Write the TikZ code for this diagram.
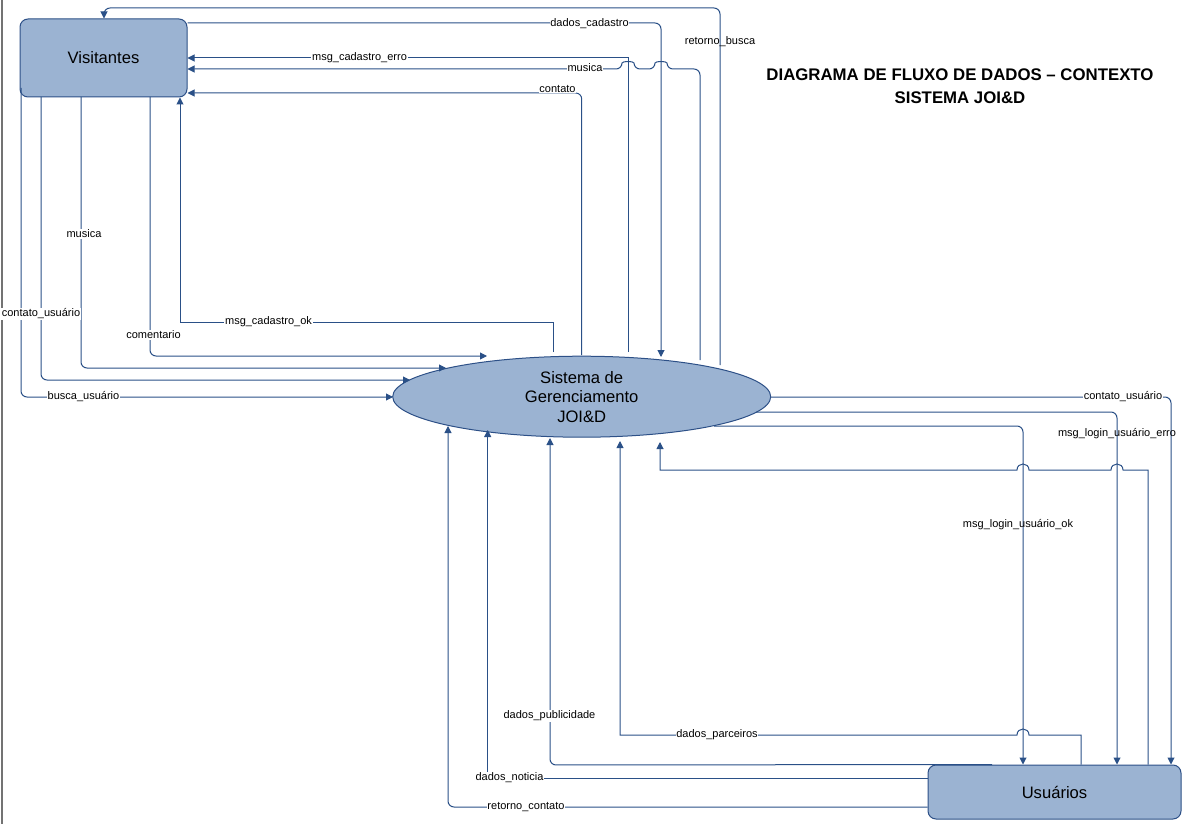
\documentclass[tikz,border=0pt]{standalone}
\usepackage{fontspec}
\setmainfont{Liberation Sans}
\usetikzlibrary{arrows.meta,shapes.geometric}
\definecolor{flowblue}{RGB}{42,80,135}
\definecolor{boxfill}{RGB}{155,179,210}
\definecolor{boxline}{RGB}{45,80,135}

\begin{document}
\begin{tikzpicture}[x=1pt,y=-1pt,
  flow/.style={draw=flowblue, line width=1pt, -{Triangle[length=7pt,width=7pt]}},
  rc/.style={rounded corners=6pt},
  entity/.style={draw=boxline, fill=boxfill, line width=1pt, rounded corners=8pt,
                 inner sep=0pt, font=\fontsize{16.6}{20}\selectfont},
  process/.style={ellipse, draw=boxline, fill=boxfill, line width=1pt,
                  minimum width=378pt, minimum height=81pt, inner sep=0pt},
  lbl/.style={font=\fontsize{11}{13}\selectfont, fill=white, inner sep=0.8pt},
  lblclear/.style={font=\fontsize{11}{13}\selectfont, inner sep=0.8pt},
]
\useasboundingbox (0,0) rectangle (1195,824);

% page edge
\draw[black!55, line width=2pt] (1.5,0) -- (1.5,824);

% external entities and the process
\node[entity, minimum width=167pt, minimum height=78pt] (vis) at (103.5,58) {Visitantes};
\node[entity, minimum width=253pt, minimum height=54pt] (usu) at (1054.5,792) {Usuários};
\node[process] (sys) at (581.7,396.7) {};
\node[align=center, font=\fontsize{16.6}{19.5}\selectfont] (systxt) at (sys.center)
  {Sistema de\\Gerenciamento\\JOI\&D};

% title
\node[align=center, font=\bfseries\fontsize{16.8}{22.7}\selectfont] (title) at (960,86)
  {DIAGRAMA DE FLUXO DE DADOS – CONTEXTO\\SISTEMA JOI\&D};

% ports on the process border
\coordinate (pRB) at (720,365);
\coordinate (pMU) at (700,360);
\coordinate (pDC) at (661,357);
\coordinate (pME) at (628,352);
\coordinate (pCT) at (581.7,355);
\coordinate (pMO) at (553,352);
\coordinate (pBU) at (393,397);
\coordinate (pCU) at (410,380);
\coordinate (pMS) at (446,368);
\coordinate (pCM) at (487,356);
\coordinate (pRC) at (448,426);
\coordinate (pDN) at (487.7,430);
\coordinate (pDP) at (550,438);
\coordinate (pPA) at (620,441);
\coordinate (pLG) at (660,442);
\coordinate (pR1) at (771,397);
\coordinate (pR2) at (756,412);
\coordinate (pR3) at (714,426);
% ports on the lower side of Visitantes
\coordinate (vBU) at (21,88);
\coordinate (vCU) at (41,97);
\coordinate (vMS) at (81,97);
\coordinate (vCM) at (150,97);

% ---- flows between Sistema and Visitantes
\draw[flow, rc] (pRB) -- (720,8) -- (104,8) -- (vis.north -| 104,0);
\draw[flow, rc] (vis.east |- 0,23) -- (661,23) -- (pDC);
\draw[flow] (pME) -- (628,58) -- (vis.east |- 0,58);
\draw[flow, rc] (pMU) -- (700,69) -- (667,69)
  .. controls (667,61) and (655,61) .. (655,69) -- (634,69)
  .. controls (634,61) and (622,61) .. (622,69) -- (vis.east |- 0,69);
\draw[flow, rc] (pCT) -- (581.7,93) -- (vis.east |- 0,93);
\draw[flow] (pMO) -- (553,322) -- (180,322) -- (vis.south -| 180,0);

\draw[flow, rc] (vBU) -- (21,397) -- (pBU);
\draw[flow, rc] (vCU) -- (41,380) -- (pCU);
\draw[flow, rc] (vMS) -- (81,368) -- (pMS);
\draw[flow, rc] (vCM) -- (150,356) -- (pCM);

% ---- flows between Sistema and Usuarios
\draw[flow, rc] (pR1) -- (1171,397) -- (usu.north -| 1171,0);
\draw[flow, rc] (pR2) -- (1117,412) -- (usu.north -| 1117,0);
\draw[flow, rc] (pR3) -- (1023,426) -- (usu.north -| 1023,0);

\draw[flow] (usu.north -| 1148,0) -- (1148,470) -- (1123,470)
  .. controls (1123,462) and (1111,462) .. (1111,470) -- (1029,470)
  .. controls (1029,462) and (1017,462) .. (1017,470) -- (660,470) -- (pLG);
\draw[flow] (usu.north -| 1081,0) -- (1081,735) -- (1029,735)
  .. controls (1029,727) and (1017,727) .. (1017,735) -- (620,735) -- (pPA);
\draw[flow, rc] (usu.north -| 992,0) -- (550,765) -- (pDP);
\draw[flow] (usu.west |- 0,778) -- (487.7,778) -- (pDN);
\draw[flow, rc] (usu.west |- 0,807) -- (448,807) -- (pRC);

% ---- flow labels
\node[lbl] (l01) at (589.5,24) {dados\_cadastro};
\node[lblclear] (l02) at (720,42) {retorno\_busca};
\node[lbl] (l03) at (359.5,58) {msg\_cadastro\_erro};
\node[lbl] (l04) at (585,68) {musica};
\node[lbl] (l05) at (557.5,89) {contato};
\node[lbl] (l06) at (268.5,322) {msg\_cadastro\_ok};
\node[lbl] (l07) at (41,314) {contato\_usuário};
\node[lbl] (l08) at (84,234) {musica};
\node[lbl] (l09) at (153.5,335) {comentario};
\node[lbl] (l10) at (83.5,397) {busca\_usuário};
\node[lbl] (l11) at (1123,397) {contato\_usuário};
\node[lblclear] (l12) at (1117,434) {msg\_login\_usuário\_erro};
\node[lblclear] (l13) at (1018,525) {msg\_login\_usuário\_ok};
\node[lbl] (l14) at (717,735) {dados\_parceiros};
\node[lbl] (l15) at (549.5,716) {dados\_publicidade};
\node[lbl] (l16) at (509.5,778) {dados\_noticia};
\node[lbl] (l17) at (526,807) {retorno\_contato};
\end{tikzpicture}
\end{document}
